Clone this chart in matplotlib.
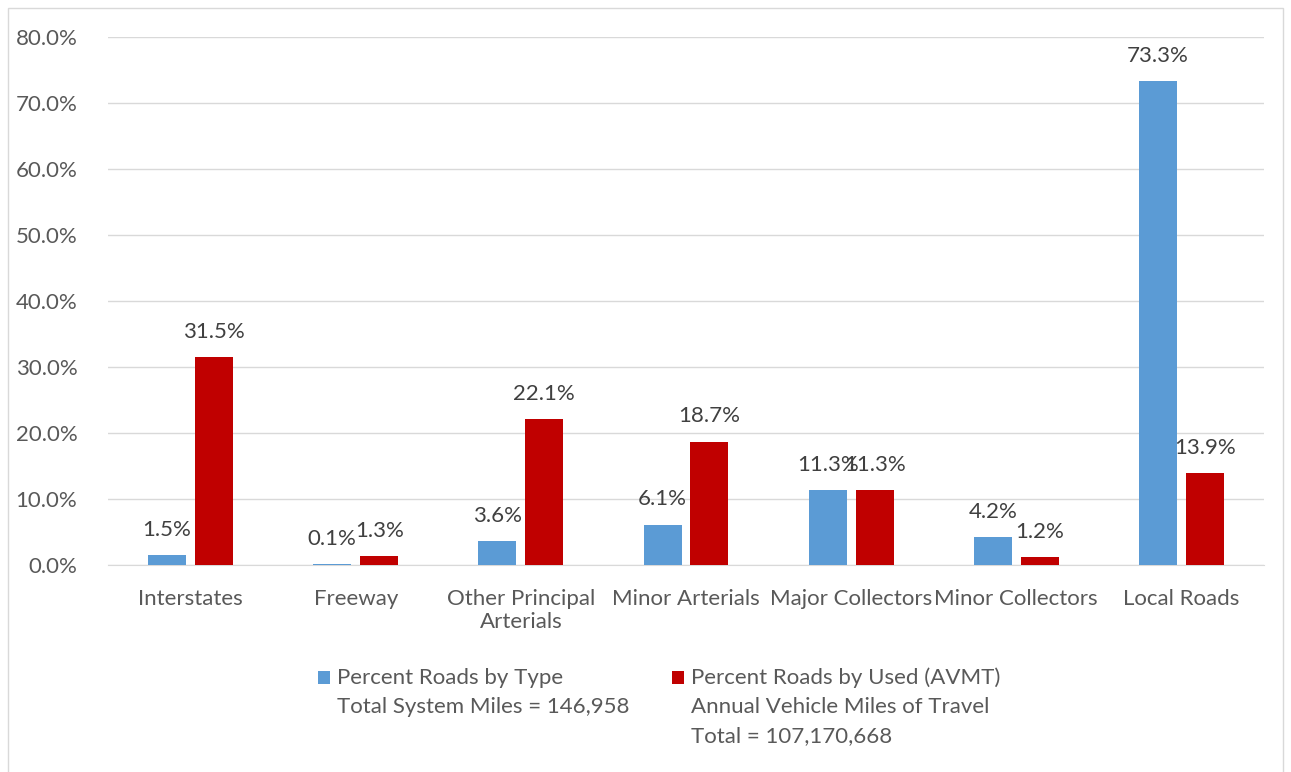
import matplotlib
matplotlib.use("Agg")
import matplotlib.pyplot as plt
from matplotlib.patches import Rectangle
import numpy as np

categories = ["Interstates", "Freeway", "Other Principal\nArterials", "Minor Arterials",
              "Major Collectors", "Minor Collectors", "Local Roads"]
pct_type = [1.5, 0.1, 3.6, 6.1, 11.3, 4.2, 73.3]
pct_used = [31.5, 1.3, 22.1, 18.7, 11.3, 1.2, 13.9]
series_labels = [["Percent Roads by Type", "Total System Miles = 146,958"],
                 ["Percent Roads by Used (AVMT)", "Annual Vehicle Miles of Travel",
                  "Total = 107,170,668"]]
yticks = [0, 10, 20, 30, 40, 50, 60, 70, 80]

plt.rcParams['font.family'] = ['Lato', 'DejaVu Sans']
W, H = 1291, 772
fig = plt.figure(figsize=(W/100, H/100), dpi=100)
fig.patches.append(Rectangle((8/W, -0.01), (1283-8)/W, (764)/H + 0.01, transform=fig.transFigure,
                             fill=False, edgecolor="#d9d9d9", linewidth=1))
ax = fig.add_axes([108/W, 1-565/H, (1264-108)/W, (565-37)/H])
x = np.arange(len(categories))
bw = 0.23
off = 0.142
blue = "#5b9bd5"
red = "#c00000"
b1 = ax.bar(x - off, pct_type, bw, color=blue, zorder=3)
b2 = ax.bar(x + off, pct_used, bw, color=red, zorder=3)
for bars, vals in ((b1, pct_type), (b2, pct_used)):
    for r, v in zip(bars, vals):
        ax.annotate(f"{v:.1f}%", (r.get_x() + r.get_width()/2, v), xytext=(0, 11),
                    textcoords="offset points", ha="center", va="bottom",
                    fontsize=16, color="#404040")
ax.set_xlim(-0.5, len(categories) - 0.5)
ax.set_ylim(0, 80)
ax.set_yticks(yticks)
ax.set_yticklabels([f"{v:.1f}%" for v in yticks])
ax.set_xticks(x)
ax.set_xticklabels(categories)
ax.tick_params(axis='both', length=0, labelsize=16, labelcolor="#595959")
ax.tick_params(axis='x', pad=17)
ax.tick_params(axis='y', pad=22)
ax.grid(axis='y', color="#d9d9d9", linewidth=1, zorder=0)
for s in ['top', 'right', 'left']:
    ax.spines[s].set_visible(False)
ax.spines['bottom'].set_color("#d9d9d9")

# legend drawn manually (multi-line entries)
legend_x = [318, 672]
for lx, col, lines in zip(legend_x, (blue, red), series_labels):
    fig.patches.append(Rectangle((lx/W, 1-684/H), 12/W, 13/H, transform=fig.transFigure,
                                 facecolor=col, edgecolor="none"))
    for k, line in enumerate(lines):
        fig.text((lx + 19)/W, 1-(678 + 29*k)/H, line, ha="left", va="center",
                 fontsize=16, color="#595959")
fig.savefig("out.png", dpi=100)
